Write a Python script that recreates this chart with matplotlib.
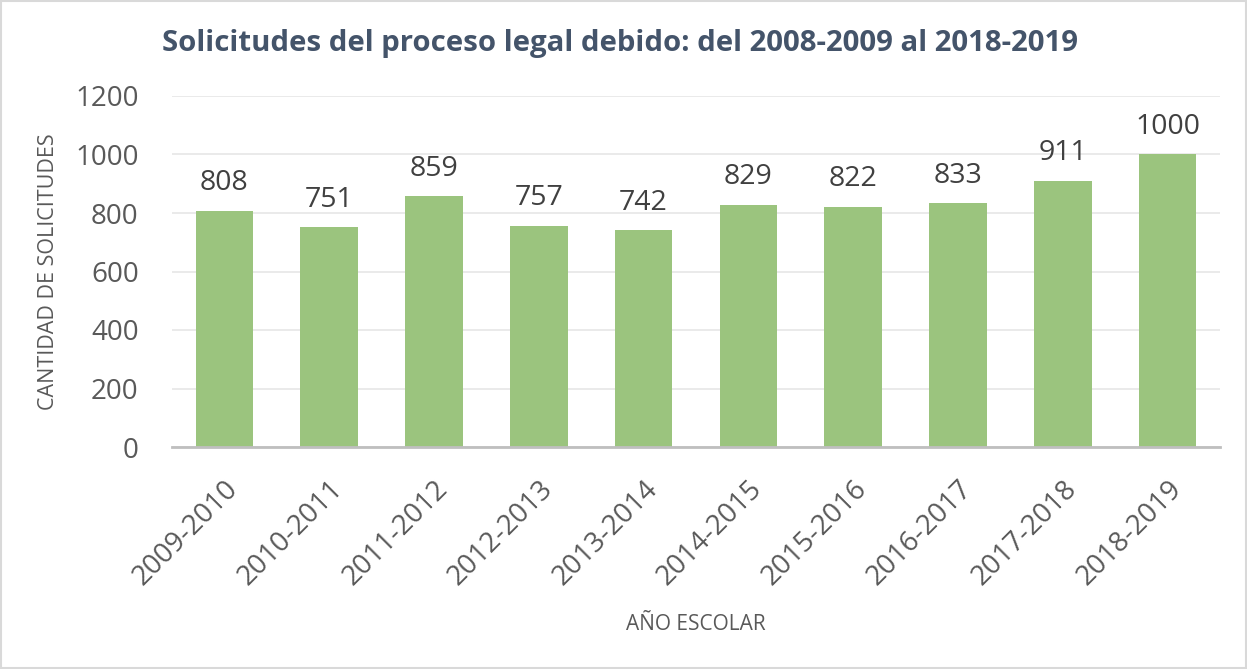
import numpy as np
from matplotlib import pyplot as plt
from matplotlib.patches import Rectangle

# Data
years = ['2009-2010', '2010-2011', '2011-2012', '2012-2013', '2013-2014',
         '2014-2015', '2015-2016', '2016-2017', '2017-2018', '2018-2019']
requests = [808, 751, 859, 757, 742, 829, 822, 833, 911, 1000]

plt.rcParams['font.family'] = ['Open Sans', 'DejaVu Sans']

fig = plt.figure(figsize=(12.47, 6.69), dpi=100)
ax = fig.add_axes([172 / 1247, 1 - 447 / 669, 1048 / 1247, 351 / 669])

ind = np.arange(len(years))
ax.bar(ind, requests, 0.55, color='#9BC47E', zorder=2)

# value labels above the bars
for x, v in zip(ind, requests):
    ax.text(x, v + 45, str(v), ha='center', va='bottom', fontsize=20.5, color='#404040')

ax.set_xlim(-0.5, len(years) - 0.5)
ax.set_ylim(0, 1200)
ax.set_yticks(np.arange(0, 1201, 200))
ax.yaxis.grid(True, color='#E6E6E6', linewidth=1.2, zorder=0)
ax.set_xticks(ind)
ax.set_xticklabels(years, rotation=45, ha='right', rotation_mode='anchor')
ax.tick_params(axis='both', length=0, labelsize=20, labelcolor='#595959')
ax.tick_params(axis='y', pad=24)
ax.tick_params(axis='x', pad=20)

for s in ['top', 'right', 'left']:
    ax.spines[s].set_visible(False)
ax.spines['bottom'].set_color('#BFBFBF')
ax.spines['bottom'].set_linewidth(2)

ax.set_ylabel('CANTIDAD DE SOLICITUDES', fontsize=15.5, color='#595959')
ax.yaxis.set_label_coords(-0.108, 0.5)
ax.set_xlabel('AÑO ESCOLAR', fontsize=15, color='#595959')
ax.xaxis.set_label_coords(0.5, -0.475)
fig.text(620 / 1247, 1 - 43 / 669,
         'Solicitudes del proceso legal debido: del 2008-2009 al 2018-2019',
         ha='center', va='center', fontsize=21.2, fontweight='bold', color='#44546A')

fig.patches.append(Rectangle((0.001, 0.001), 0.998, 0.998, transform=fig.transFigure,
                             fill=False, edgecolor='#D9D9D9', linewidth=1.5))

plt.savefig('out.png', dpi=100)
